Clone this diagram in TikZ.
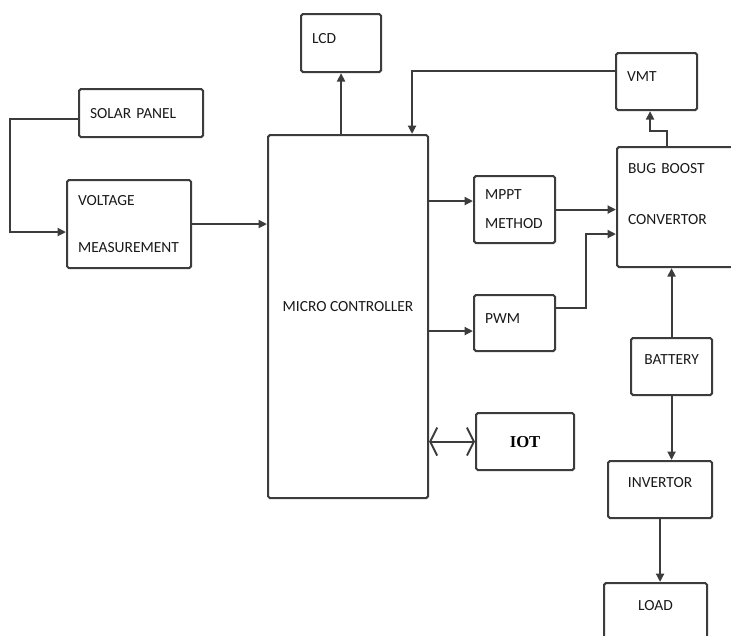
\documentclass[tikz,border=0pt]{standalone}
\usepackage{fontspec}
\setmainfont{Carlito}
\newfontfamily\iotfont{Liberation Serif}
\usetikzlibrary{arrows.meta}
\definecolor{linegray}{RGB}{60,60,60}
\tikzset{
  block/.style={draw=linegray, line width=1.2pt, rounded corners=1pt, anchor=north west,
    inner sep=0pt, text=black!90, font=\fontsize{8.8}{10.5}\selectfont},
  lbox/.style={block, align=left, inner xsep=0.22cm, text width=#1},
  cbox/.style={block, align=center, minimum width=#1},
  arr/.style={draw=linegray, line width=1.2pt, -{Triangle[length=0.17cm,width=0.16cm]}},
  barb/.style={draw=linegray, line width=1.1pt,
    {Straight Barb[length=0.14cm,width=0.56cm]}-{Straight Barb[length=0.14cm,width=0.56cm]}}
}
\begin{document}
\begin{tikzpicture}
        \clip (0,0) rectangle (14.62,-12.70);
        %Solar side
        \node[lbox=2.04cm, minimum height=0.96cm] (solar) at (1.56,-1.76) {SOLAR PANEL};
        \node[lbox=2.04cm, minimum height=1.76cm] (volt) at (1.32,-3.58) {VOLTAGE\\[0.59cm]MEASUREMENT};
        %Controller
        \node[cbox=3.20cm, minimum height=7.26cm, text depth=0.4cm] (mc) at (5.34,-2.68) {MICRO CONTROLLER};
        \node[lbox=1.16cm, minimum height=1.16cm, text depth=0.2cm] (lcd) at (6.00,-0.26) {LCD};
        \node[lbox=1.18cm, minimum height=1.34cm] (mppt) at (9.46,-3.50) {MPPT\\[0.21cm]METHOD};
        \node[lbox=1.18cm, minimum height=1.12cm, text depth=0.2cm] (pwm) at (9.46,-5.88) {PWM};
        \node[cbox=1.96cm, minimum height=1.14cm, font=\iotfont\bfseries\fontsize{9.5}{11}\selectfont, text=black] (iot) at (9.50,-8.24) {IOT};
        % Converter
        \node[lbox=1.18cm, minimum height=1.14cm, text depth=0.22cm] (vmt) at (12.30,-1.04) {VMT};
        \node[lbox=2.56cm, minimum height=2.40cm, text depth=1.56cm] (bug) at (12.32,-2.92) {BUG BOOST\\[0.65cm]CONVERTOR};
        % Battery and load
        \node[cbox=1.62cm, minimum height=1.14cm, text depth=0.28cm] (batt) at (12.60,-6.74) {BATTERY};
        \node[cbox=2.08cm, minimum height=1.14cm, text depth=0.3cm] (inv) at (12.14,-9.20) {INVERTOR};
        \node[cbox=2.06cm, minimum height=1.30cm, text depth=0.42cm] (load) at (12.06,-11.64) {LOAD};
        %Links
        \coordinate (mpptin) at ([yshift=0.17cm]mppt.west);
        \coordinate (pwmin) at ([yshift=-0.16cm]pwm.west);
        \draw[arr] ([yshift=-0.12cm]solar.west) -- ++(-1.36,0) |- ([yshift=-0.16cm]volt.west);
        \draw[arr] (volt.east) -- (volt.east -| mc.west);
        \draw[arr] (lcd.south |- mc.north) -- (lcd.south);
        \draw[arr] ([yshift=0.21cm]vmt.west) -| ([xshift=1.28cm]mc.north);
        \draw[arr] ([xshift=1.02cm]bug.north west) -- ++(0,0.3) -| ([xshift=-0.13cm]vmt.south);
        \draw[arr] (mpptin -| mc.east) -- (mpptin);
        \draw[arr] (mppt.east) -- (mppt.east -| bug.west);
        \draw[arr] (pwmin -| mc.east) -- (pwmin);
        \draw[arr] ([yshift=0.3cm]pwm.east) -- ++(0.6,0) |- ([yshift=-0.54cm]bug.west);
        \draw[barb] (iot.west -| mc.east) -- (iot.west);
        \draw[arr] (batt.north) -- (batt.north |- bug.south);
        \draw[arr] (batt.south) -- (batt.south |- inv.north);
        \draw[arr] (inv.south) -- (inv.south |- load.north);
    \end{tikzpicture}
\end{document}
